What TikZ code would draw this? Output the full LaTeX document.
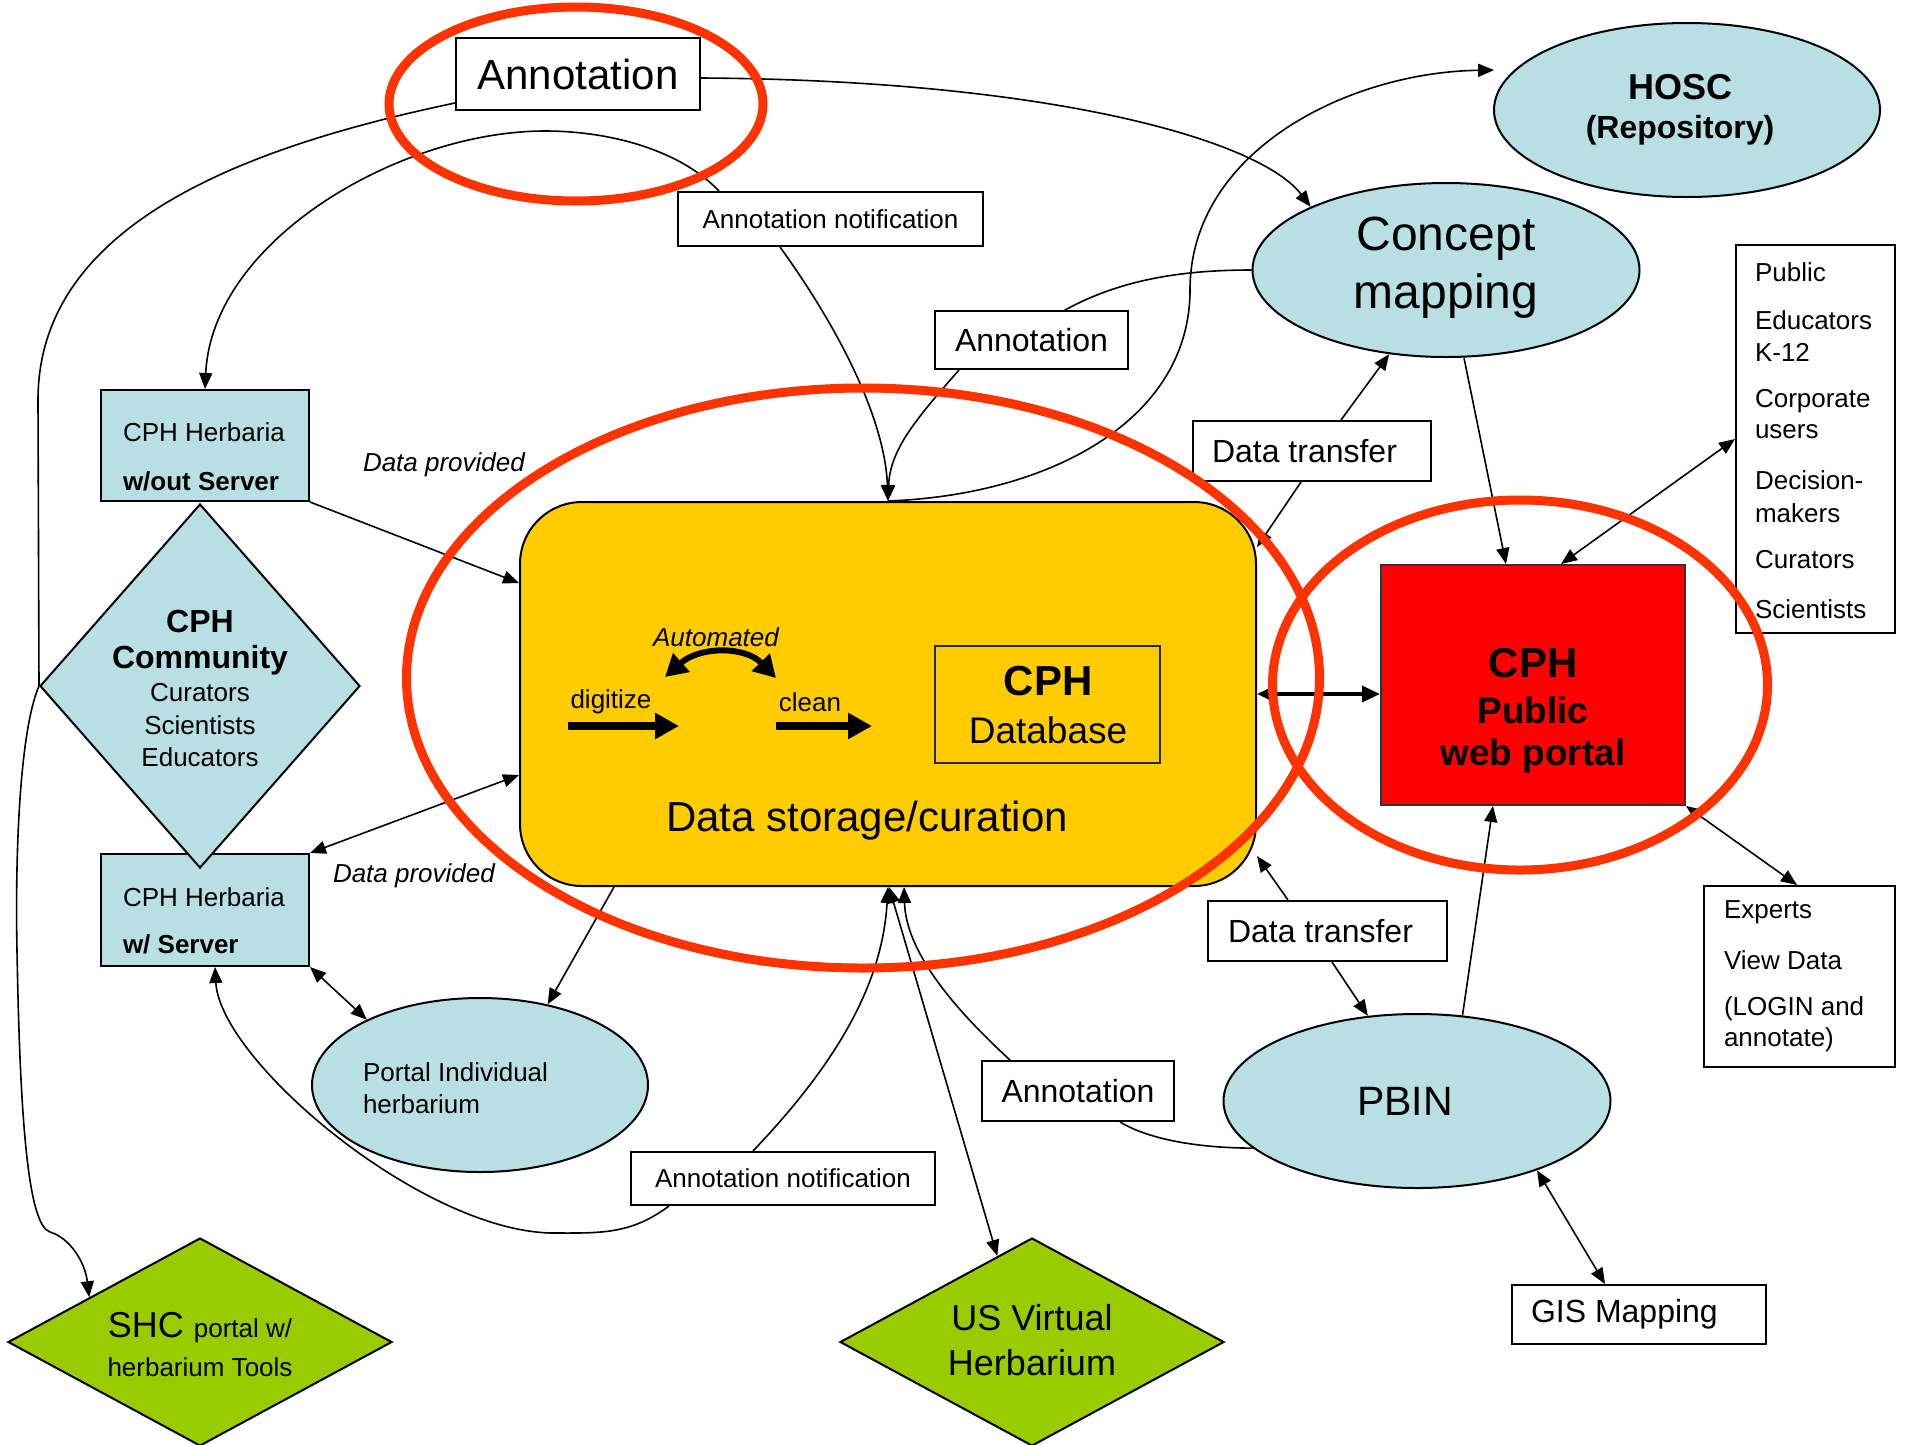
\documentclass[tikz,border=0pt]{standalone}
\usepackage{fontspec}
\setmainfont{Liberation Sans}
\usetikzlibrary{shapes.geometric,arrows.meta,calc}
\definecolor{lblue}{RGB}{184,223,227}
\definecolor{dyellow}{RGB}{255,204,0}
\definecolor{lgreen}{RGB}{153,204,0}
\definecolor{pred}{RGB}{255,0,0}
\definecolor{ored}{RGB}{255,51,0}
\newcommand\fz[1]{\fontsize{#1}{#1}\selectfont}
\tikzset{
  box/.style={draw, line width=2pt, fill=white, inner sep=0pt},
  ell/.style={ellipse, draw, line width=2pt, fill=lblue, inner sep=0pt},
  dia/.style={diamond, draw, line width=2pt, inner sep=0pt},
  ring/.style={ellipse, draw=ored, line width=9pt, inner sep=0pt},
  txt/.style={inner sep=0pt, outer sep=0pt},
  conn/.style={line width=1.6pt},
  arr/.style={conn, -{Triangle[length=16pt,width=13pt]}},
  darr/.style={conn, {Triangle[length=16pt,width=13pt]}-{Triangle[length=16pt,width=13pt]}},
}
\begin{document}
\begin{tikzpicture}[x=1pt,y=-1pt]
\useasboundingbox (0,0) rectangle (1910,1444);
\fill[white] (0,0) rectangle (1910,1444);

% ---------- main shapes ----------
\node[draw, line width=2pt, fill=dyellow, rounded corners=62pt, minimum width=736pt, minimum height=384pt, inner sep=0pt] (storage) at (888,694) {};
\node[draw=black!85, line width=2pt, minimum width=225pt, minimum height=117pt, inner sep=0pt] (cphdb) at (1047.5,704.5) {};
\node[draw=black!80, line width=2pt, fill=pred, minimum width=304pt, minimum height=240pt, inner sep=0pt] (portal) at (1533,685) {};

\node[box, minimum width=244pt, minimum height=72pt, font=\fz{42}] (annTop) at (578,74) {Annotation};
\node[box, minimum width=305pt, minimum height=54pt, font=\fz{26}] (annNotTop) at (830.5,219) {Annotation notification};
\node[box, minimum width=193pt, minimum height=58pt, font=\fz{32}] (annMid) at (1031.5,340) {Annotation};
\node[box, minimum width=238pt, minimum height=60pt] (dtUp) at (1312,451) {};
\node[box, minimum width=239pt, minimum height=60pt] (dtLow) at (1327.5,931) {};
\node[box, minimum width=192pt, minimum height=60pt, font=\fz{32}] (annLow) at (1078,1091) {Annotation};
\node[box, minimum width=304pt, minimum height=53pt, font=\fz{26}] (annNotLow) at (783,1178.5) {Annotation notification};
\node[box, minimum width=254pt, minimum height=59pt] (gis) at (1639,1314.5) {};
\node[box, minimum width=159pt, minimum height=388pt] (aud) at (1815.5,439) {};
\node[box, minimum width=191pt, minimum height=181pt] (exp) at (1799.5,976.5) {};
\node[box, fill=lblue, minimum width=208pt, minimum height=111pt] (herbNo) at (205,445.5) {};
\node[box, fill=lblue, minimum width=208pt, minimum height=112pt] (herbW) at (205,910) {};

\node[ell, minimum width=386pt, minimum height=174pt] (hosc) at (1687,110) {};
\node[ell, minimum width=387pt, minimum height=174pt] (concept) at (1446,270) {};
\node[ell, minimum width=387pt, minimum height=174pt] (pbin) at (1417,1101) {};
\node[ell, minimum width=336pt, minimum height=174pt] (pind) at (480,1085) {};

\node[dia, fill=lblue, minimum width=320pt, minimum height=364pt] (comm) at (200,686) {};
\node[dia, fill=lgreen, minimum width=384pt, minimum height=208pt] (shc) at (200,1342) {};
\node[dia, fill=lgreen, minimum width=384pt, minimum height=208pt] (usv) at (1032,1342) {};

% ---------- texts ----------
\node[txt, font=\fz{32}, anchor=west] (dtUpT) at (1212,451) {Data transfer};
\node[txt, font=\fz{32}, anchor=west] (dtLowT) at (1228,931) {Data transfer};
\node[txt, font=\fz{32}, anchor=west] (gisT) at (1531,1314.5) {GIS Mapping};

\node[txt, font=\fz{26}, anchor=west] (audA) at (1755,272) {Public};
\node[txt, font=\fz{26}, anchor=west] (audB) at (1755,320) {Educators};
\node[txt, font=\fz{26}, anchor=west] (audC) at (1755,352) {K-12};
\node[txt, font=\fz{26}, anchor=west] (audD) at (1755,401) {Corporate};
\node[txt, font=\fz{26}, anchor=west] (audE) at (1755,432) {users};
\node[txt, font=\fz{26}, anchor=west] (audF) at (1755,480) {Decision-};
\node[txt, font=\fz{26}, anchor=west] (audG) at (1755,513) {makers};
\node[txt, font=\fz{26}, anchor=west] (audH) at (1755,560) {Curators};
\node[txt, font=\fz{26}, anchor=west] (audI) at (1755,609) {Scientists};

\node[txt, font=\fz{26}, anchor=west] (expA) at (1724,912) {Experts};
\node[txt, font=\fz{26}, anchor=west] (expB) at (1724,960) {View Data};
\node[txt, font=\fz{26}, anchor=west] (expC) at (1724,1009) {(LOGIN and};
\node[txt, font=\fz{26}, anchor=west] (expD) at (1724,1040) {annotate)};

\node[txt, font=\fz{26}, anchor=west] (hnA) at (123,432) {CPH Herbaria};
\node[txt, font=\fz{26}\bfseries, anchor=west] (hnB) at (123,481) {w/out Server};
\node[txt, font=\fz{26}, anchor=west] (hwA) at (123,897) {CPH Herbaria};
\node[txt, font=\fz{26}\bfseries, anchor=west] (hwB) at (123,944) {w/ Server};

\node[txt, font=\fz{32}\bfseries] (cmA) at (200,621) {CPH};
\node[txt, font=\fz{32}\bfseries] (cmB) at (200,660) {Community};
\node[txt, font=\fz{26}] (cmC) at (200,693) {Curators};
\node[txt, font=\fz{26}] (cmD) at (200,725) {Scientists};
\node[txt, font=\fz{26}] (cmE) at (200,757) {Educators};

\node[txt, font=\fz{26}\itshape, anchor=west] (dpA) at (363,465) {Data provided};
\node[txt, font=\fz{26}\itshape, anchor=west] (dpB) at (333,876) {Data provided};

\node[txt, font=\fz{26}\itshape] (auto) at (716,637) {Automated};
\node[txt, font=\fz{26}] (digi) at (611,702) {digitize};
\node[txt, font=\fz{26}] (clean) at (810,702) {clean};
\node[txt, font=\fz{42}] (stT) at (867,821) {Data storage/curation};
\node[txt, font=\fz{42}\bfseries] (dbA) at (1048,681) {CPH};
\node[txt, font=\fz{37}] (dbB) at (1048,730) {Database};

\node[txt, font=\fz{42}\bfseries] (poA) at (1533,663) {CPH};
\node[txt, font=\fz{37}\bfseries] (poB) at (1533,710) {Public};
\node[txt, font=\fz{37}\bfseries] (poC) at (1533,756) {web portal};

\node[txt, font=\fz{36}\bfseries] (hoA) at (1680,87) {HOSC};
\node[txt, font=\fz{32}\bfseries] (hoB) at (1680,130) {(Repository)};
\node[txt, font=\fz{48}] (coA) at (1446,239) {Concept};
\node[txt, font=\fz{48}] (coB) at (1446,296) {mapping};
\node[txt, font=\fz{41}] (pbT) at (1405,1101) {PBIN};
\node[txt, font=\fz{26}, anchor=west] (piA) at (363,1072) {Portal Individual};
\node[txt, font=\fz{26}, anchor=west] (piB) at (363,1104) {herbarium};

\node[txt] (shcA) at (200,1328) {{\fz{36}SHC }{\fz{26}portal w/}};
\node[txt, font=\fz{26}] (shcB) at (200,1367) {herbarium Tools};
\node[txt, font=\fz{36}] (usA) at (1032,1318) {US Virtual};
\node[txt, font=\fz{36}] (usB) at (1032,1363) {Herbarium};

% ---------- inner process arrows ----------
\coordinate (autoL) at (665,677);
\coordinate (autoR) at (776,678);
\coordinate (digS) at (568,726);
\coordinate (digE) at (679,726);
\coordinate (clS) at (776,726);
\coordinate (clE) at (872,726);
\draw[line width=6pt, {Triangle[length=22pt,width=24pt]}-{Triangle[length=22pt,width=24pt]}] (autoL) .. controls (700,646) and (745,646) .. (autoR);
\draw[line width=8pt, -{Triangle[length=24pt,width=25pt]}] (digS) -- (digE);
\draw[line width=8pt, -{Triangle[length=24pt,width=25pt]}] (clS) -- (clE);

% ---------- connectors ----------
\draw[conn] ([yshift=8pt]annTop.south west) .. controls (230,150) and (38,230) .. (38,400) -- (comm.west);
\draw[arr] (comm.west) .. controls (20,730) and (15,850) .. (17,950) .. controls (20,1120) and (28,1225) .. (50,1232) .. controls (70,1238) and (85,1262) .. (shc.158);
\draw[arr] ([yshift=-4pt]annTop.east) .. controls (1050,80) and (1260,140) .. (concept.155);
\draw[arr] ([xshift=42pt]annNotTop.north west) .. controls (680,150) and (610,131) .. (545,131) .. controls (400,131) and (212,240) .. (herbNo.north);
\draw[arr] ([xshift=103pt]annNotTop.south west) .. controls (840,330) and (885,420) .. (storage.north);
\draw[arr] ([xshift=25pt]annMid.south west) .. controls (915,420) and (890,450) .. (storage.north);
\draw[conn] ([xshift=131pt]annMid.north west) .. controls (1120,280) and (1180,270) .. (concept.west);
\draw[arr] (storage.north) .. controls (1050,495) and (1190,420) .. (1190,290) .. controls (1190,150) and (1350,72) .. ([xshift=-20pt]hosc.167);
\draw[arr] ([xshift=149pt]dtUp.north west) -- (concept.236);
\draw[arr] ([xshift=109pt]dtUp.south west) -- ([yshift=-46pt]storage.north east);
\draw[arr] ([xshift=18pt]concept.south) -- ([xshift=126pt]portal.north west);
\draw[darr] (aud.west) -- ([xshift=181pt]portal.north west);
\draw[line width=3.5pt, {Triangle[length=18pt,width=16pt]}-{Triangle[length=18pt,width=16pt]}] (storage.east) -- (storage.east -| portal.west);
\draw[darr] (portal.south east) -- ([xshift=94pt]exp.north west);
\draw[arr] (pbin.62) -- ([xshift=113pt]portal.south west);
\draw[arr] ([xshift=81pt]dtLow.north west) -- ([yshift=31pt]storage.south east);
\draw[arr] ([xshift=125pt]dtLow.south west) -- (pbin.120);
\draw[darr] (pbin.-30) -- ([xshift=94pt]gis.north west);
\draw[conn] (pbin.196) .. controls (1200,1148) and (1150,1140) .. ([xshift=139pt]annLow.south west);
\draw[arr] ([xshift=29pt]annLow.north west) .. controls (950,1005) and (906,950) .. ([xshift=16pt]storage.south);
\draw[darr] ([xshift=1pt]storage.south) -- (usv.112);
\draw[arr] ([xshift=123pt]annNotLow.north west) .. controls (830,1070) and (882,990) .. (storage.south);
\draw[arr] ([xshift=39pt]annNotLow.south west) .. controls (630,1235) and (600,1233) .. (551,1233) .. controls (420,1230) and (220,1060) .. ([xshift=115pt]herbW.south west);
\draw[arr] ([xshift=95pt]storage.south west) -- (pind.50);
\draw[darr] (herbW.south east) -- (pind.150);
\draw[arr] (herbNo.south east) -- ([yshift=111pt]storage.west);
\draw[darr] ([yshift=-81pt]storage.west) -- (herbW.north east);

% ---------- red highlight rings ----------
\node[ring, minimum width=374pt, minimum height=194pt] (ringTop) at (576,104) {};
\node[ring, minimum width=913pt, minimum height=580pt] (ringStore) at (863,678) {};
\node[ring, minimum width=495pt, minimum height=370pt] (ringPortal) at (1520,685) {};
\end{tikzpicture}
\end{document}
